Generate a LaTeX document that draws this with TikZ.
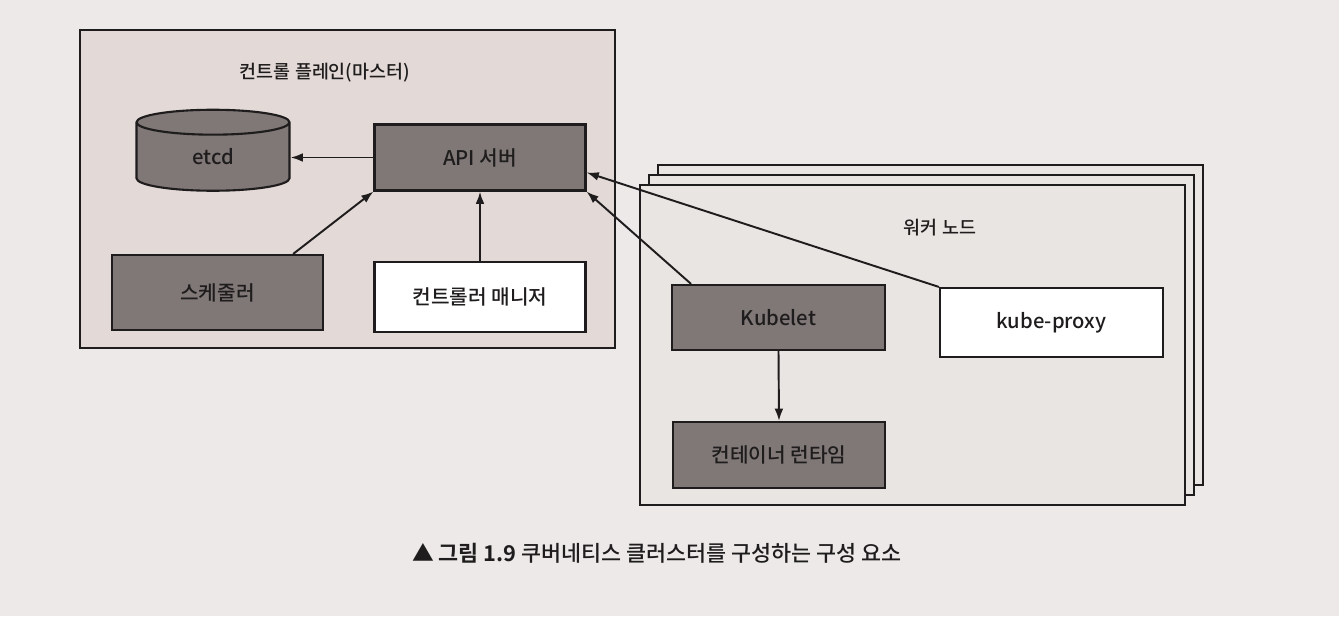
\documentclass[tikz,border=0pt]{standalone}
\usepackage{fontspec}
\setmainfont{Noto Sans CJK KR}[UprightFont=* Medium,BoldFont=* Bold]
\usetikzlibrary{shapes.geometric,arrows.meta}
\definecolor{paper}{RGB}{236,233,232}
\definecolor{masterfill}{RGB}{227,217,215}
\definecolor{workerfill}{RGB}{233,229,226}
\definecolor{darkbox}{RGB}{128,119,119}
\definecolor{ink}{RGB}{30,28,28}
\begin{document}
\begin{tikzpicture}
  [x=0.02cm,y=-0.02cm,line width=1.2pt,draw=ink,text=ink,font=\fontsize{11.5}{13}\selectfont,
   every node/.style={draw=ink,line width=1.2pt,inner sep=0pt},
   darkbox/.style={rectangle,fill=darkbox,minimum width=4.22cm,minimum height=1.32cm},
   whitebox/.style={rectangle,fill=white,minimum width=4.22cm,minimum height=1.36cm},
   page/.style={rectangle,fill=workerfill,minimum width=10.9cm,minimum height=6.4cm},
   caption/.style={draw=none,font=\fontsize{12.4}{14}\selectfont},
   title/.style={draw=none,font=\fontsize{10.5}{12}\selectfont},
   arr/.style={-{Latex[length=7pt,width=5pt]},line width=1.1pt}]
  \useasboundingbox[fill=paper] (0,0) rectangle (1339,616);
  \node[rectangle,fill=masterfill,minimum width=10.7cm,minimum height=6.36cm] (master) at (347.5,189) {};
  \node[title] (mastertitle) at (325,73) {컨트롤 플레인(마스터)};
  \node[cylinder,shape border rotate=90,aspect=0.6,fill=darkbox,minimum width=3.06cm,minimum height=1.62cm] (etcd) at (213,157) {etcd};
  \node[darkbox] (api) at (480,157.5) {API 서버};
  \node[darkbox,minimum height=1.5cm] (sched) at (217.5,292.5) {스케줄러};
  \node[whitebox,minimum height=1.4cm] (cm) at (480,297) {컨트롤러 매니저};

  \node[page] (back) at (930.5,325) {};
  \node[page] (middle) at (921.5,335) {};
  \node[page] (worker) at (912.5,345) {};
  \node[title] (workertitle) at (940,228) {워커 노드};
  \node[darkbox,minimum width=4.26cm,minimum height=1.3cm] (kubelet) at (778.5,317.5) {Kubelet};
  \node[whitebox,minimum width=4.46cm,minimum height=1.38cm] (proxy) at (1051.5,322.5) {kube-proxy};
  \node[darkbox,minimum width=4.24cm,minimum height=1.32cm] (runtime) at (779,455) {컨테이너 런타임};

  \draw[arr] (api.west) -- (api.west -| etcd.east);
  \draw[arr] (sched.27) -- (api.south west);
  \draw[arr] (cm.north) -- (api.south);
  \draw[arr] (kubelet.159) -- (api.south east);
  \draw[arr] (proxy.north west) -- (api.-8);
  \draw[arr] (kubelet.south) -- (runtime.north);

  \node[caption] (cap) at (657,553) {\textbf{▲ 그림 1.9} 쿠버네티스 클러스터를 구성하는 구성 요소};
\end{tikzpicture}
\end{document}
